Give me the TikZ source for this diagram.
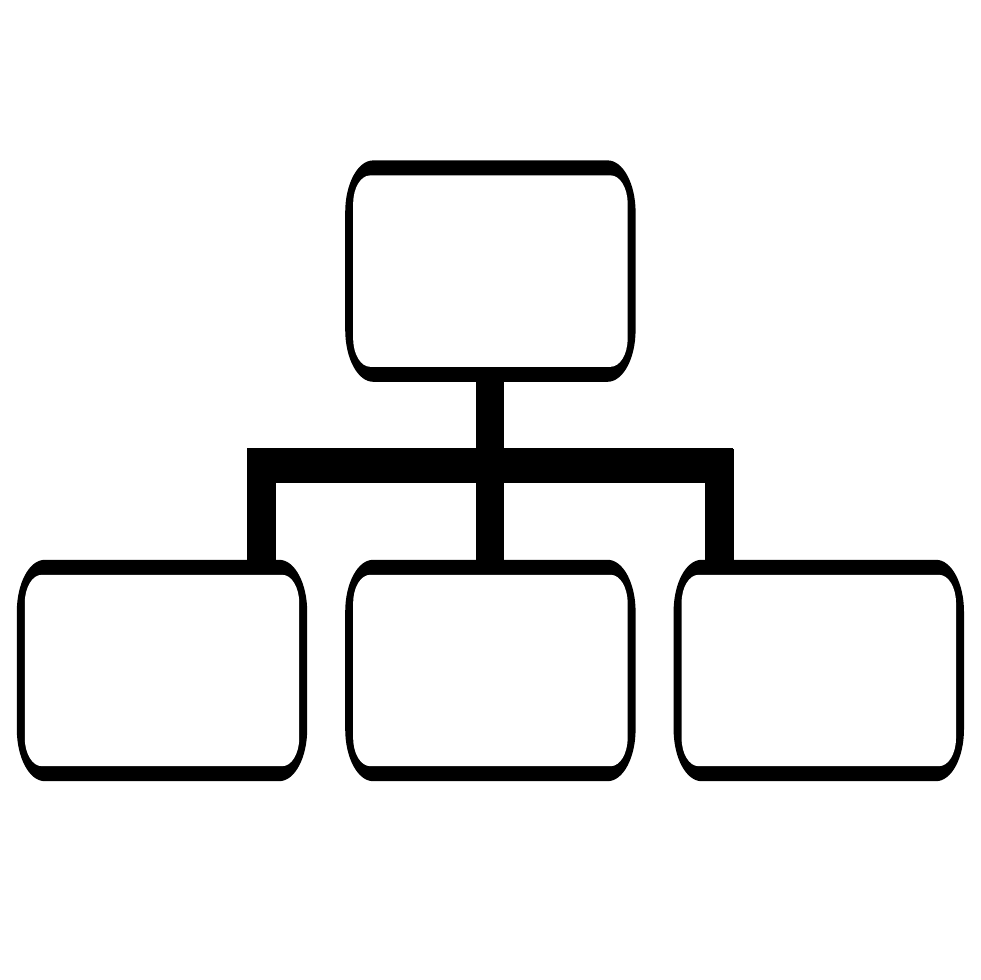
\documentclass[tikz,border=0pt]{standalone}
\usepackage{tikz}
\usetikzlibrary{
	positioning,
	calc
}

% rounded box with elliptic corners, drawn around a node
\newcommand{\ovalbox}[6]{%
	\fill[#6] ([shift={(#2,#3+#5)}]#1.south west)
		-- ([shift={(#2,-#3-#5)}]#1.north west)
		arc[start angle=180,end angle=90,x radius=#4pt,y radius=#5pt]
		-- ([shift={(-#2-#4,-#3)}]#1.north east)
		arc[start angle=90,end angle=0,x radius=#4pt,y radius=#5pt]
		-- ([shift={(-#2,#3+#5)}]#1.south east)
		arc[start angle=0,end angle=-90,x radius=#4pt,y radius=#5pt]
		-- ([shift={(#2+#4,#3)}]#1.south west)
		arc[start angle=270,end angle=180,x radius=#4pt,y radius=#5pt]
		-- cycle;}

\tikzset{
	orgbox/.style={rectangle,inner sep=0pt,minimum width=290pt,minimum height=221pt},
	stem/.style={line width=28pt},
	bar/.style={line width=35pt}
}

\begin{document}
\begin{tikzpicture}[x=1pt,y=1pt,node distance=38pt]
		\useasboundingbox[fill=white] (0,0) rectangle (980,980);

		\node[orgbox] at (162,309.5) (sub1) {};
		\node[orgbox,right=of sub1]  (sub2) {};
		\node[orgbox,right=of sub2]  (sub3) {};
		\node[orgbox,above=178pt of sub2] (chief) {};

		\coordinate (barL) at (247,514.5);
		\coordinate (barR) at (733,514.5);

		% connectors
		\draw[stem] (chief.south) -- (sub2.north);
		\draw[bar]  (barL) -- (barR);
		\draw[line width=29pt] ([xshift=99.5pt]sub1.north) -- ++(0,111);
		\draw[line width=29pt] ([xshift=-99.5pt]sub3.north) -- ++(0,111);

		% boxes
		\foreach \b in {chief,sub1,sub2,sub3}{
			\ovalbox{\b}{0}{0}{28}{52}{black}
			\ovalbox{\b}{8}{15}{17}{28}{white}
		}
	\end{tikzpicture}
\end{document}
